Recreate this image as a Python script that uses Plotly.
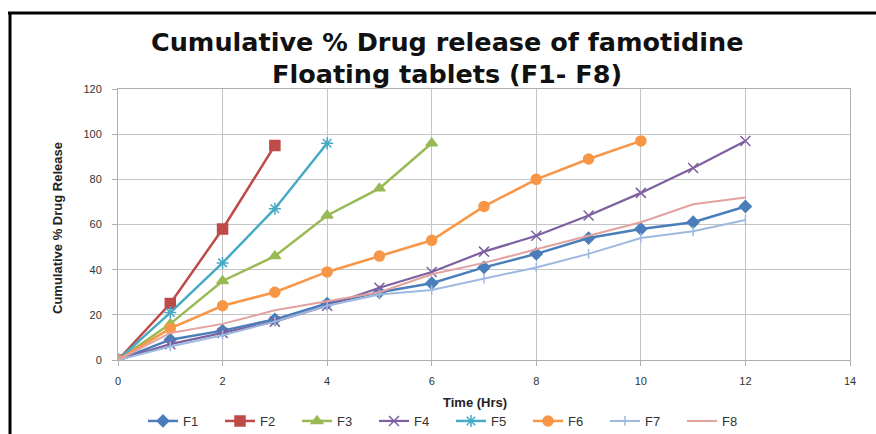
import plotly.graph_objects as go

# Sampling times (hours) and cumulative % drug release for each formulation
time_f1 = [0, 1, 2, 3, 4, 5, 6, 7, 8, 9, 10, 11, 12]
f1 = [0, 9, 13, 18, 25, 30, 34, 41, 47, 54, 58, 61, 68]

time_f2 = [0, 1, 2, 3]
f2 = [0, 25, 58, 95]

time_f3 = [0, 1, 2, 3, 4, 5, 6]
f3 = [0, 16, 35, 46, 64, 76, 96]

time_f4 = [0, 1, 2, 3, 4, 5, 6, 7, 8, 9, 10, 11, 12]
f4 = [0, 7, 12, 17, 24, 32, 39, 48, 55, 64, 74, 85, 97]

time_f5 = [0, 1, 2, 3, 4]
f5 = [0, 21, 43, 67, 96]

time_f6 = [0, 1, 2, 3, 4, 5, 6, 7, 8, 9, 10]
f6 = [0, 14, 24, 30, 39, 46, 53, 68, 80, 89, 97]

time_f7 = [0, 1, 2, 3, 4, 5, 6, 7, 8, 9, 10, 11, 12]
f7 = [0, 6, 11, 17, 24, 29, 31, 36, 41, 47, 54, 57, 62]

time_f8 = [0, 1, 2, 3, 4, 5, 6, 7, 8, 9, 10, 11, 12]
f8 = [0, 12, 16, 22, 26, 30, 38, 43, 49, 55, 61, 69, 72]

x_ticks = [0, 2, 4, 6, 8, 10, 12, 14]
y_ticks = [0, 20, 40, 60, 80, 100, 120]

series = [
    ("F1", time_f1, f1, "#4a7ebb", "diamond", 9, 2.5),
    ("F2", time_f2, f2, "#be4b48", "square", 10, 2.5),
    ("F3", time_f3, f3, "#98b954", "triangle-up", 10, 2.5),
    ("F4", time_f4, f4, "#7d60a0", "x-thin-open", 10, 2.2),
    ("F5", time_f5, f5, "#46aac5", "asterisk-open", 10, 2.5),
    ("F6", time_f6, f6, "#f79646", "circle", 10, 2.5),
    ("F7", time_f7, f7, "#9db9e0", "line-ns-open", 7, 2),
    ("F8", time_f8, f8, "#e2a2a0", None, 0, 2),
]

fig = go.Figure()
for name, xs, ys, color, symbol, size, width in series:
    if symbol is None:
        fig.add_trace(go.Scatter(
            x=xs, y=ys, name=name, mode="lines",
            line=dict(color=color, width=width),
        ))
    else:
        fig.add_trace(go.Scatter(
            x=xs, y=ys, name=name, mode="lines+markers",
            line=dict(color=color, width=width),
            marker=dict(symbol=symbol, size=size, color=color,
                        line=dict(color=color, width=1.5)),
        ))

L, R, T, B = 118, 26, 89, 74
W, H = 876, 434
pw, ph = W - L - R, H - T - B

def px_x(p):
    return (p - L) / pw

def px_y(p):
    return (H - B - p) / ph

fig.update_layout(
    width=W, height=H,
    margin=dict(l=L, r=R, t=T, b=B, autoexpand=False),
    paper_bgcolor="white",
    plot_bgcolor="white",
    font=dict(family="Liberation Sans Narrow, Arial Narrow, sans-serif", color="#333333"),
    xaxis=dict(
        range=[0, 14], tickvals=x_ticks,
        showgrid=True, gridcolor="#c4c4c4", gridwidth=1.3,
        showline=True, linecolor="#b0b0b0", mirror=True,
        ticks="outside", ticklen=5, tickcolor="#b0b0b0",
        ticklabelstandoff=6,
        tickfont=dict(family="Liberation Sans, Arial, sans-serif", size=11, color="#333333"),
        zeroline=False, automargin=False,
    ),
    yaxis=dict(
        range=[0, 120], tickvals=y_ticks,
        showgrid=True, gridcolor="#c4c4c4", gridwidth=1.3,
        showline=True, linecolor="#b0b0b0", mirror=True,
        ticks="outside", ticklen=5, tickcolor="#b0b0b0",
        ticklabelstandoff=8,
        tickfont=dict(family="Liberation Sans, Arial, sans-serif", size=11, color="#333333"),
        zeroline=False, automargin=False,
    ),
    legend=dict(
        orientation="h", x=px_x(451), xanchor="center",
        yref="container", y=1 - 421 / H, yanchor="middle",
        font=dict(size=13, color="#333333"),
        entrywidth=32, entrywidthmode="pixels",
        tracegroupgap=0,
        bgcolor="rgba(0,0,0,0)",
    ),
    showlegend=True,
)

# Two-line chart title
title_font = dict(family="DejaVu Sans, sans-serif", size=25.5, color="#111111")
fig.add_annotation(text="<b>Cumulative % Drug release of famotidine</b>",
                   xref="paper", yref="paper", x=px_x(447), y=px_y(42),
                   xanchor="center", yanchor="middle", showarrow=False, font=title_font)
fig.add_annotation(text="<b>Floating tablets (F1- F8)</b>",
                   xref="paper", yref="paper", x=px_x(447), y=px_y(74),
                   xanchor="center", yanchor="middle", showarrow=False, font=title_font)

# Axis titles
fig.add_annotation(text="<b>Time (Hrs)</b>",
                   xref="paper", yref="paper", x=px_x(475), y=px_y(402),
                   xanchor="center", yanchor="middle", showarrow=False,
                   font=dict(size=13, color="#222222"))
fig.add_annotation(text="<b>Cumulative % Drug Release</b>", textangle=-90,
                   xref="paper", yref="paper", x=px_x(58), y=px_y(228),
                   xanchor="center", yanchor="middle", showarrow=False,
                   font=dict(size=13, color="#222222"))

# Black frame along the top and left of the chart
fig.add_shape(type="line", xref="paper", yref="paper",
              x0=px_x(8), x1=px_x(W + 2), y0=px_y(13), y1=px_y(13),
              line=dict(color="black", width=3))
fig.add_shape(type="line", xref="paper", yref="paper",
              x0=px_x(10), x1=px_x(10), y0=px_y(12), y1=px_y(H + 2),
              line=dict(color="black", width=3))

fig.write_html("out.html")
